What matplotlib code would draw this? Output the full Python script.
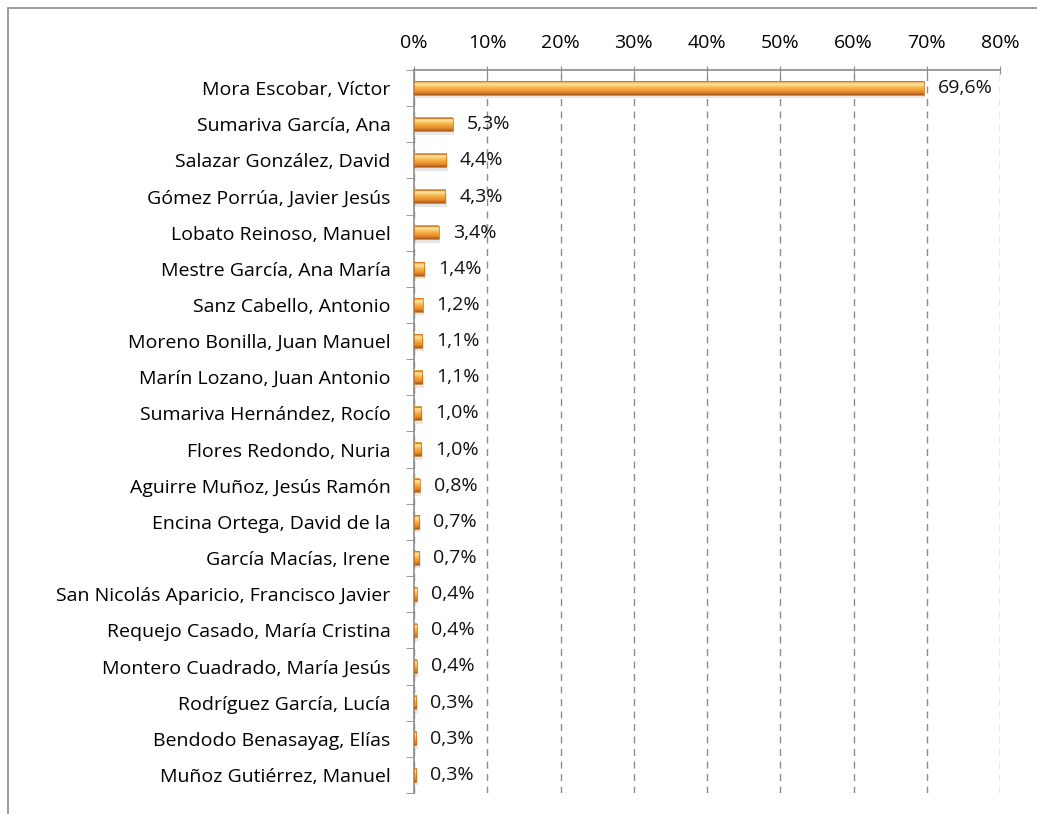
import matplotlib
matplotlib.use("Agg")
import matplotlib.pyplot as plt
import numpy as np
from matplotlib.patches import Rectangle
from matplotlib.colors import LinearSegmentedColormap

nombres = ["Mora Escobar, Víctor", "Sumariva García, Ana", "Salazar González, David",
           "Gómez Porrúa, Javier Jesús", "Lobato Reinoso, Manuel", "Mestre García, Ana María",
           "Sanz Cabello, Antonio", "Moreno Bonilla, Juan Manuel", "Marín Lozano, Juan Antonio",
           "Sumariva Hernández, Rocío", "Flores Redondo, Nuria", "Aguirre Muñoz, Jesús Ramón",
           "Encina Ortega, David de la", "García Macías, Irene",
           "San Nicolás Aparicio, Francisco Javier", "Requejo Casado, María Cristina",
           "Montero Cuadrado, María Jesús", "Rodríguez García, Lucía",
           "Bendodo Benasayag, Elías", "Muñoz Gutiérrez, Manuel"]
valores = [69.6, 5.3, 4.4, 4.3, 3.4, 1.4, 1.2, 1.1, 1.1, 1.0, 1.0, 0.8, 0.7, 0.7,
           0.4, 0.4, 0.4, 0.3, 0.3, 0.3]
ticks_x = [0, 10, 20, 30, 40, 50, 60, 70, 80]

plt.rcParams['font.family'] = ['Open Sans', 'DejaVu Sans']
fs = 14

fig = plt.figure(figsize=(10.37, 8.14), dpi=100)
# marco del grafico
fig.patches.append(Rectangle((8 / 1037, -0.1), 1.2, 1 - 8 / 814 + 0.1, transform=fig.transFigure,
                             fill=False, edgecolor='#8c8c8c', lw=1.2))

ax = fig.add_axes([414 / 1037, 21 / 814, 586 / 1037, 723 / 814])
y = np.arange(len(nombres))

# degradado tipo excel (arriba -> abajo)
grad = LinearSegmentedColormap.from_list('barra', [
    (0.0, '#e09433'), (0.22, '#fee7a0'), (0.45, '#f9b84e'),
    (0.8, '#e58a28'), (1.0, '#a9571a')])
g = np.linspace(0, 1, 64).reshape(-1, 1)
h = 0.37

for yi, v in zip(y, valores):
    # sombra
    ax.add_patch(Rectangle((0.2, yi - h / 2 + 0.1), v, h, color='#b0b0b0', alpha=0.3,
                           lw=0, zorder=2))
    ax.imshow(g, cmap=grad, aspect='auto', interpolation='bilinear',
              extent=(0, v, yi + h / 2, yi - h / 2), zorder=3)
    ax.add_patch(Rectangle((0, yi - h / 2), v, h, fill=False, edgecolor='#c06e1e',
                           lw=0.5, zorder=4))
    ax.annotate(f"{v:.1f}%".replace('.', ','), (v, yi), xytext=(10, 0),
                textcoords='offset points', va='center', ha='left', fontsize=fs, color='#111111')

ax.set_xlim(0, 80)
ax.set_ylim(len(nombres) - 0.5, -0.5)
ax.set_aspect('auto')
ax.xaxis.tick_top()
ax.set_xticks(ticks_x)
ax.set_xticklabels([f"{t}%" for t in ticks_x], fontsize=fs)
ax.set_yticks(y)
ax.set_yticklabels(nombres, fontsize=fs)
ax.set_yticks(np.arange(len(nombres) + 1) - 0.5, minor=True)
ax.tick_params(axis='y', which='major', length=0, pad=17)
ax.tick_params(axis='y', which='minor', length=6, color='#8c8c8c')
ax.tick_params(axis='x', length=6, color='#8c8c8c', direction='inout', pad=10)

ax.grid(axis='x', linestyle=(0, (5, 4)), color='#8c8c8c', lw=1)
ax.set_axisbelow(True)
for s in ['right', 'bottom']:
    ax.spines[s].set_visible(False)
for s in ['top', 'left']:
    ax.spines[s].set_color('#8c8c8c')
    ax.spines[s].set_linewidth(1.2)

plt.savefig("out.png", dpi=100)
